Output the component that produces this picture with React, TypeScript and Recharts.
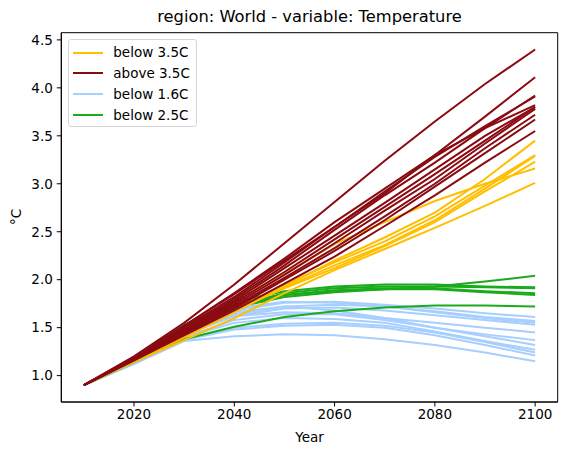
import React from 'react';
import { LineChart, Line, XAxis, YAxis, ReferenceArea } from 'recharts';

// Decadal time axis
const years = [2010, 2020, 2030, 2040, 2050, 2060, 2070, 2080, 2090, 2100];

// Warming pathways (°C), one array per scenario, grouped by category
const below16C = [
  [0.90, 1.15, 1.45, 1.68, 1.76, 1.77, 1.74, 1.70, 1.65, 1.61],
  [0.90, 1.15, 1.47, 1.70, 1.77, 1.76, 1.72, 1.67, 1.61, 1.57],
  [0.90, 1.14, 1.43, 1.64, 1.72, 1.74, 1.72, 1.66, 1.60, 1.55],
  [0.90, 1.14, 1.42, 1.62, 1.70, 1.71, 1.68, 1.63, 1.58, 1.53],
  [0.90, 1.14, 1.44, 1.62, 1.66, 1.65, 1.60, 1.55, 1.50, 1.45],
  [0.90, 1.13, 1.40, 1.58, 1.64, 1.64, 1.58, 1.50, 1.43, 1.37],
  [0.90, 1.14, 1.44, 1.66, 1.72, 1.68, 1.60, 1.50, 1.41, 1.32],
  [0.90, 1.13, 1.40, 1.55, 1.60, 1.59, 1.55, 1.46, 1.36, 1.27],
  [0.90, 1.13, 1.38, 1.50, 1.54, 1.55, 1.52, 1.45, 1.35, 1.24],
  [0.90, 1.13, 1.37, 1.48, 1.52, 1.53, 1.50, 1.42, 1.32, 1.21],
  [0.90, 1.12, 1.36, 1.41, 1.43, 1.42, 1.38, 1.32, 1.24, 1.15],
];

const below25C = [
  [0.90, 1.17, 1.52, 1.74, 1.84, 1.88, 1.90, 1.93, 1.98, 2.04],
  [0.90, 1.17, 1.53, 1.77, 1.88, 1.93, 1.95, 1.95, 1.93, 1.92],
  [0.90, 1.16, 1.51, 1.73, 1.86, 1.91, 1.93, 1.93, 1.92, 1.91],
  [0.90, 1.16, 1.50, 1.72, 1.84, 1.89, 1.91, 1.91, 1.88, 1.86],
  [0.90, 1.16, 1.49, 1.71, 1.82, 1.87, 1.90, 1.90, 1.87, 1.84],
  [0.90, 1.14, 1.38, 1.51, 1.61, 1.67, 1.71, 1.73, 1.73, 1.72],
];

const below35C = [
  [0.90, 1.17, 1.47, 1.78, 2.06, 2.37, 2.60, 2.82, 3.00, 3.16],
  [0.90, 1.16, 1.42, 1.69, 1.95, 2.18, 2.40, 2.66, 2.98, 3.30],
  [0.90, 1.16, 1.42, 1.67, 1.92, 2.15, 2.36, 2.62, 2.95, 3.29],
  [0.90, 1.16, 1.43, 1.68, 1.91, 2.12, 2.35, 2.60, 2.92, 3.23],
  [0.90, 1.15, 1.40, 1.66, 1.93, 2.20, 2.44, 2.70, 3.05, 3.45],
  [0.90, 1.14, 1.37, 1.60, 1.86, 2.10, 2.32, 2.54, 2.77, 3.01],
];

const above35C = [
  [0.90, 1.20, 1.55, 1.95, 2.38, 2.81, 3.24, 3.65, 4.04, 4.40],
  [0.90, 1.19, 1.52, 1.85, 2.20, 2.55, 2.90, 3.30, 3.70, 4.11],
  [0.90, 1.18, 1.48, 1.80, 2.15, 2.52, 2.88, 3.22, 3.58, 3.92],
  [0.90, 1.18, 1.50, 1.82, 2.18, 2.55, 2.92, 3.28, 3.60, 3.91],
  [0.90, 1.19, 1.52, 1.86, 2.22, 2.60, 2.95, 3.30, 3.58, 3.82],
  [0.90, 1.17, 1.46, 1.76, 2.08, 2.42, 2.76, 3.10, 3.45, 3.80],
  [0.90, 1.17, 1.45, 1.74, 2.05, 2.38, 2.72, 3.05, 3.42, 3.78],
  [0.90, 1.17, 1.44, 1.72, 2.02, 2.33, 2.66, 3.00, 3.37, 3.72],
  [0.90, 1.16, 1.43, 1.70, 2.00, 2.30, 2.62, 2.97, 3.32, 3.67],
  [0.90, 1.16, 1.42, 1.68, 1.96, 2.24, 2.56, 2.88, 3.22, 3.55],
  [0.90, 1.18, 1.47, 1.78, 2.12, 2.46, 2.80, 3.15, 3.50, 3.80],
];

const xTicks = [2020, 2040, 2060, 2080, 2100];
const yTicks = [1.0, 1.5, 2.0, 2.5, 3.0, 3.5, 4.0, 4.5];

// Category styling; legend order and draw order are separate
const categories = [
  { key: 'b35', label: 'below 3.5C', color: '#ffbf00', series: below35C },
  { key: 'a35', label: 'above 3.5C', color: '#8b0a12', series: above35C },
  { key: 'b16', label: 'below 1.6C', color: '#a6cfff', series: below16C },
  { key: 'b25', label: 'below 2.5C', color: '#19ab1c', series: below25C },
];
const drawOrder = ['b16', 'b25', 'b35', 'a35'];

const rows = years.map((year, i) => {
  const row: Record<string, number> = { year };
  categories.forEach((c) => c.series.forEach((s, j) => { row[`${c.key}${j}`] = s[i]; }));
  return row;
});

const FONT = '"DejaVu Sans", sans-serif';
const W = 567;
const H = 455;
const TICK_FS = 13.5;

export default function App() {
  return (
    <div style={{ position: 'absolute', left: 0, top: 0, width: W, height: H, background: '#fff', fontFamily: FONT }}>
      <LineChart
        width={W}
        height={H}
        data={rows}
        margin={{ top: 32.7, right: 9.3, bottom: 23, left: 11.3 }}
      >
        <XAxis
          dataKey="year"
          type="number"
          domain={[2005.5, 2104.5]}
          ticks={xTicks}
          allowDataOverflow
          height={30}
          stroke="#000"
          tickSize={4.5}
          tickMargin={3}
          tick={{ fill: '#000', fontSize: TICK_FS, fontFamily: FONT }}
        />
        <YAxis
          type="number"
          domain={[0.725, 4.575]}
          ticks={yTicks}
          allowDataOverflow
          width={50}
          stroke="#000"
          tickSize={4.5}
          tickMargin={4}
          tickFormatter={(v: number) => v.toFixed(1)}
          tick={{ fill: '#000', fontSize: TICK_FS, fontFamily: FONT }}
        />
        <ReferenceArea
          x1={2005.5}
          x2={2104.5}
          y1={0.725}
          y2={4.575}
          fill="none"
          stroke="#000"
          strokeWidth={1}
          fillOpacity={0}
          strokeOpacity={1}
        />
        {drawOrder.flatMap((k) => {
          const c = categories.find((cat) => cat.key === k)!;
          return c.series.map((_, j) => (
            <Line
              key={`${c.key}${j}`}
              dataKey={`${c.key}${j}`}
              stroke={c.color}
              strokeWidth={2}
              dot={false}
              activeDot={false}
              isAnimationActive={false}
              type="linear"
            />
          ));
        })}
      </LineChart>

      {/* Title */}
      <div style={{ position: 'absolute', left: 61.3, width: 496.4, top: 7, textAlign: 'center', fontSize: 16.3, color: '#000', whiteSpace: 'nowrap', lineHeight: '20px' }}>
        region: World - variable: Temperature
      </div>

      {/* X axis label */}
      <div style={{ position: 'absolute', left: 61.3, width: 496.4, top: 428, textAlign: 'center', fontSize: TICK_FS, color: '#000', lineHeight: '18px' }}>
        Year
      </div>

      {/* Y axis label */}
      <div style={{ position: 'absolute', left: 16, top: 217.3, width: 0, height: 0 }}>
        <div style={{ position: 'absolute', left: -20, top: -9, width: 40, textAlign: 'center', fontSize: TICK_FS, color: '#000', lineHeight: '18px', transform: 'rotate(-90deg)' }}>
          °C
        </div>
      </div>

      {/* Legend */}
      <div style={{ position: 'absolute', left: 68.3, top: 39.3, width: 129, height: 88, boxSizing: 'border-box', border: '1px solid #d6d6d6', borderRadius: 3, background: 'rgba(255,255,255,0.8)' }}>
        {categories.map((c, i) => (
          <div key={c.key} style={{ position: 'absolute', left: 0, top: 2 + i * 20.8, height: 20.8, width: 127, display: 'flex', alignItems: 'center' }}>
            <div style={{ position: 'absolute', left: 4, top: 9.4, width: 29.5, height: 2, background: c.color }} />
            <div style={{ position: 'absolute', left: 44, top: 1, fontSize: TICK_FS, lineHeight: '18px', color: '#000', whiteSpace: 'nowrap' }}>{c.label}</div>
          </div>
        ))}
      </div>
    </div>
  );
}
